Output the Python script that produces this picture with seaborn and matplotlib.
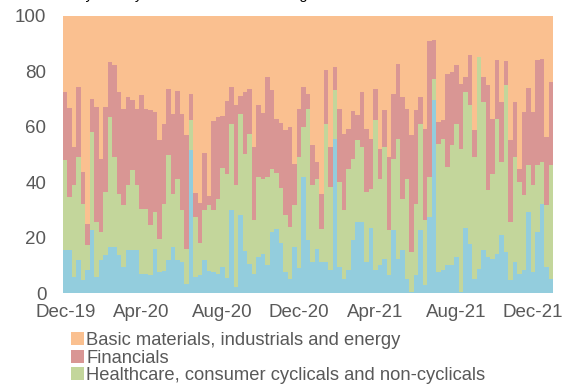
import numpy as np
import pandas as pd
import matplotlib
matplotlib.use("Agg")
import matplotlib.pyplot as plt
from matplotlib.patches import Patch
import seaborn as sns

# ---------------- data (share of weekly total, %) ----------------
sectors = [
    "Basic materials, industrials and energy",
    "Financials",
    "Healthcare, consumer cyclicals and non-cyclicals",
    "Technology, telecoms and utilities",
]
week_start = "2019-12-06"
n_weeks = 109
tick_months = [12, 4, 8]

blue = [15.4,15.4,5.8,11.8,4.6,8.2,22.6,5.8,11.8,13.6,
        16.6,16.6,13.8,9.4,15.4,15.4,15.4,7.0,7.0,6.4,
        16.0,7.6,8.1,11.8,16.6,11.8,11.2,3.4,51.6,5.9,
        6.5,12.0,8.0,7.7,7.0,9.5,5.3,30.0,2.3,28.0,
        15.0,10.4,7.0,13.0,14.2,10.0,22.0,23.2,18.0,7.6,
        5.2,16.7,8.9,42.0,19.1,11.2,16.0,11.2,11.2,8.2,
        55.7,9.4,5.2,8.2,19.0,25.6,25.6,11.2,23.5,8.2,
        10.0,12.4,6.5,22.6,12.4,15.4,5.2,0.5,6.4,22.6,
        2.8,27.4,69.6,7.6,8.2,10.0,10.0,13.0,0.3,23.5,
        17.8,5.2,8.8,15.4,13.0,12.4,14.2,20.8,14.8,4.6,
        11.2,7.0,8.2,29.2,7.6,22.0,32.3,9.4,5.2]

green = [32.5,19.3,33.3,37.3,27.7,9.0,35.5,19.8,10.2,22.9,
         46.9,32.5,22.1,22.2,23.5,28.9,23.5,23.4,23.4,18.0,
         13.2,11.9,24.2,37.9,19.2,29.5,18.8,12.6,10.7,21.7,
         11.4,18.0,23.7,22.3,27.0,35.5,37.7,31.0,36.7,36.5,
         35.3,47.1,19.3,29.0,26.8,32.0,22.6,20.3,20.0,20.4,
         18.6,14.9,40.2,18.0,47.4,27.7,25.3,12.0,49.9,30.1,
         17.5,30.7,24.6,36.7,29.5,29.5,27.1,25.3,14.2,54.1,
         31.3,40.3,16.1,25.9,43.3,18.7,36.1,14.3,25.9,38.5,
         23.4,14.5,7.8,46.3,47.5,35.5,43.3,48.1,51.8,49.1,
         49.9,43.9,76.4,53.6,24.1,30.7,48.7,26.5,60.2,21.0,
         37.9,33.1,27.1,16.9,31.3,24.1,15.0,22.2,40.9]

red = [24.7,32.1,13.6,25.3,11.4,7.8,11.8,41.5,26.5,30.6,
       19.9,33.1,36.7,34.9,31.9,25.3,27.6,41.0,36.1,41.5,
       36.1,35.6,28.8,23.8,28.9,31.6,34.7,41.0,9.7,8.4,
       14.6,20.7,3.3,32.0,29.5,19.0,26.4,13.4,28.9,6.5,
       22.3,16.3,26.4,25.9,24.0,36.0,28.8,19.2,23.2,31.0,
       36.2,15.1,17.4,14.4,5.5,14.4,6.0,12.7,19.3,14.4,
       8.4,26.4,27.7,14.4,17.1,9.0,19.9,22.8,18.0,11.5,
       10.8,13.2,26.5,23.5,27.1,36.7,25.2,42.1,33.6,9.7,
       33.1,49.0,13.8,7.8,6.6,33.7,26.5,21.1,23.5,5.4,
       18.1,9.6,0.0,9.0,37.9,19.8,21.1,21.7,8.6,29.5,
       19.9,4.8,30.0,27.9,26.4,37.9,37.3,24.7,30.1]

orange = [27.4,33.2,47.3,25.6,56.3,75.0,30.1,32.9,51.5,32.9,
          16.6,17.8,27.4,33.5,29.2,30.4,33.5,28.6,33.5,34.1,
          34.7,44.9,38.9,26.5,35.3,27.1,35.3,43.0,28.0,64.0,
          67.5,49.3,65.0,38.0,36.5,36.0,30.6,25.6,32.1,29.0,
          27.4,26.2,47.3,32.1,35.0,22.0,26.6,37.3,38.8,41.0,
          40.0,53.3,33.5,25.6,28.0,46.7,52.7,64.1,19.6,47.3,
          18.4,33.5,42.5,40.7,34.4,35.9,27.4,40.7,44.3,26.2,
          47.9,34.1,50.9,28.0,17.2,29.2,33.5,43.1,34.1,29.2,
          40.7,9.1,8.8,38.3,37.7,20.8,20.2,17.8,24.4,22.0,
          14.2,41.3,14.8,22.0,25.0,37.1,16.0,31.0,16.4,44.9,
          31.0,55.1,34.7,26.0,34.7,16.0,15.4,43.7,23.8]

colors = ["#FAC090", "#D99694", "#C3D69B", "#93CDDD"]

# ---------------- figure ----------------
sns.set_style("white")
plt.rcParams["font.family"] = ["Liberation Sans", "DejaVu Sans"]

W, H = 572, 387
fig = plt.figure(figsize=(W / 100, H / 100), dpi=100)
ax = fig.add_axes([63 / W, 1 - 293 / H, 490 / W, 277 / H])

dates = pd.date_range(week_start, periods=n_weeks, freq="7D")
df = pd.DataFrame({"week": np.arange(n_weeks), "orange": orange, "red": red,
                   "green": green, "blue": blue})
# cumulative tops for stacking (drawn tallest first)
df["top_blue"] = df["blue"]
df["top_green"] = df["top_blue"] + df["green"]
df["top_red"] = df["top_green"] + df["red"]
df["top_orange"] = df["top_red"] + df["orange"]

for col, c in zip(["top_orange", "top_red", "top_green", "top_blue"], colors):
    sns.barplot(data=df, x="week", y=col, color=c, width=1.0, saturation=1,
                linewidth=0, errorbar=None, ax=ax)

ax.set_ylim(0, 100)
ax.set_xlim(-0.5, n_weeks - 0.5)
ax.set_yticks(np.arange(0, 101, 20))
tick_idx = [i for i, d in enumerate(dates) if d.month in tick_months and d.day <= 7]
ax.set_xticks(tick_idx)
ax.set_xticklabels([dates[i].strftime("%b-%y") for i in tick_idx])
ax.set_xlabel("")
ax.set_ylabel("")
ax.tick_params(axis="both", length=0, labelsize=13.5, colors="#595959")
ax.tick_params(axis="y", pad=12)
ax.tick_params(axis="x", pad=8)
sns.despine(ax=ax, left=True, bottom=True)

# cut-off title at the very top (only descenders visible in the original)
fig.text(45 / W, 1 + 1.5 / H, "Weekly activity share of the total holdings",
         fontsize=10.5, color="black", va="baseline", ha="left")

# only the first three legend rows fit inside the image
handles = [Patch(facecolor=c, edgecolor="none") for c in colors[:3]]
fig.legend(handles, sectors[:3], loc="upper left", bbox_to_anchor=(71 / W, 1 - 332 / H),
           frameon=False, fontsize=13.2, handlelength=0.72, handleheight=0.72,
           handletextpad=0.12, labelspacing=0.03, borderpad=0, borderaxespad=0,
           labelcolor="#595959")

fig.savefig("out.png", dpi=100)
